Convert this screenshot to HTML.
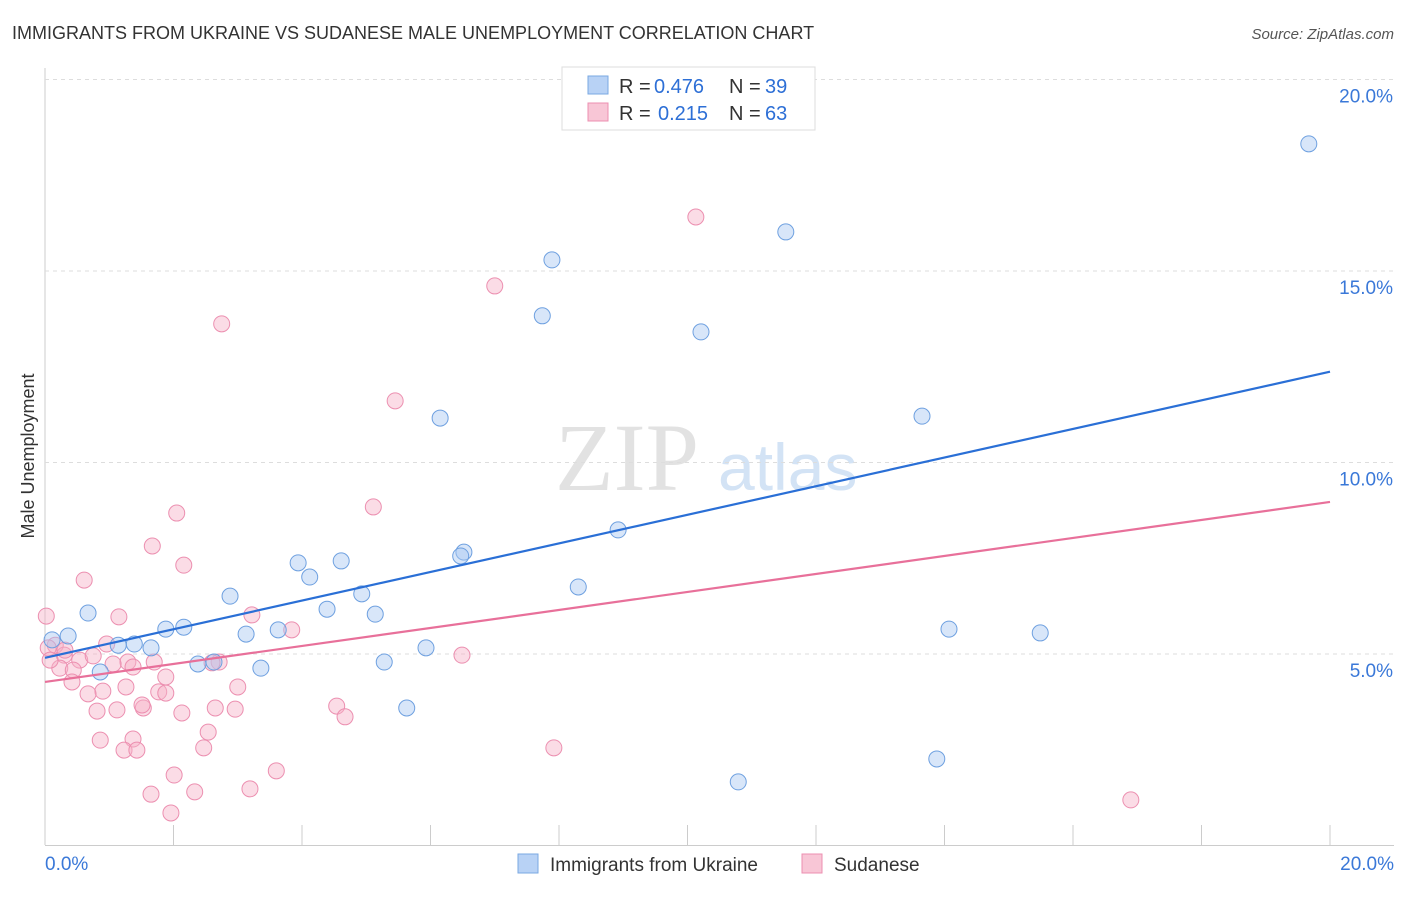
<!DOCTYPE html>
<html><head><meta charset="utf-8"><style>
body{margin:0;background:#fff;font-family:"Liberation Sans",sans-serif;}
#wrap{position:relative;width:1406px;height:892px;}
</style></head><body>
<div id="wrap">
<svg id="svg" width="1406" height="892" xmlns="http://www.w3.org/2000/svg">
<text x="12" y="39" font-size="18" fill="#333">IMMIGRANTS FROM UKRAINE VS SUDANESE MALE UNEMPLOYMENT CORRELATION CHART</text>
<text x="1394" y="39" font-size="15" fill="#555" text-anchor="end" font-style="italic">Source: ZipAtlas.com</text>
<text x="34" y="456" font-size="18" fill="#333" text-anchor="middle" transform="rotate(-90 34 456)">Male Unemployment</text>
<text x="555" y="490" font-size="96" fill="#e2e2e2" font-family="Liberation Serif,serif">ZIP</text>
<text x="718" y="490" font-size="66" fill="#d3e3f5">atlas</text>
<g id="grid"></g><g id="pts"></g><g id="lines"></g>
<g>
<rect x="562" y="67" width="253" height="63" fill="#fff" stroke="#ddd"/>
<rect x="588" y="76" width="20" height="18" fill="#b8d2f5" stroke="#7aa8e2"/>
<text x="619" y="93" font-size="20" fill="#333">R =</text>
<text x="654" y="93" font-size="20" fill="#2d6fd6">0.476</text>
<text x="729" y="93" font-size="20" fill="#333">N =</text>
<text x="765" y="93" font-size="20" fill="#2d6fd6">39</text>
<rect x="588" y="103" width="20" height="18" fill="#f8c6d6" stroke="#ec8fb0"/>
<text x="619" y="120" font-size="20" fill="#333">R =</text>
<text x="658" y="120" font-size="20" fill="#2d6fd6">0.215</text>
<text x="729" y="120" font-size="20" fill="#333">N =</text>
<text x="765" y="120" font-size="20" fill="#2d6fd6">63</text>
</g>
<g>
<rect x="518" y="854" width="20" height="19" fill="#b8d2f5" stroke="#7aa8e2"/>
<text x="550" y="871" font-size="19" fill="#333">Immigrants from Ukraine</text>
<rect x="802" y="854" width="20" height="19" fill="#f8c6d6" stroke="#ec8fb0"/>
<text x="834" y="871" font-size="19" fill="#333">Sudanese</text>
</g>
</svg>
<script>
const yTicks=[5,10,15,20];
const blueX=[],blueY=[],pinkX=[],pinkY=[];
const bluePx=[[1309,144],[786,232],[552,260],[542,316],[701,332],[440,418],[922,416],[618,530],[464,552],[461,556],[298,563],[341,561],[310,577],[578,587],[230,596],[362,594],[327,609],[375,614],[88,613],[184,627],[166,629],[278,630],[246,634],[949,629],[1040,633],[68,636],[52,640],[118,645],[134,644],[151,648],[426,648],[214,662],[198,664],[384,662],[261,668],[100,672],[407,708],[738,782],[937,759]];
const pinkPx=[[696,217],[495,286],[222,324],[395,401],[373,507],[177,513],[152,546],[184,565],[84,580],[46,616],[119,617],[252,615],[292,630],[107,644],[55,645],[48,648],[64,655],[80,660],[93,656],[128,662],[113,664],[133,667],[154,662],[219,662],[212,663],[462,655],[60,668],[73,670],[166,677],[72,682],[103,691],[126,687],[88,694],[159,692],[166,693],[238,687],[97,711],[117,710],[143,708],[142,705],[182,713],[215,708],[235,709],[337,706],[345,717],[100,740],[133,739],[208,732],[124,750],[137,750],[204,748],[554,748],[276,771],[174,775],[151,794],[195,792],[250,789],[171,813],[1131,800],[50,660],[65,650]];
bluePx.forEach(p=>{blueX.push(+((p[0]-45)/1285*20).toFixed(2));blueY.push(+((845.5-p[1])/191.5*5).toFixed(2));});
pinkPx.forEach(p=>{pinkX.push(+((p[0]-45)/1285*20).toFixed(2));pinkY.push(+((845.5-p[1])/191.5*5).toFixed(2));});
const blueTrend=[4.9,12.37];
const pinkTrend=[4.27,8.97];
const sx=v=>45+v/20*1285, sy=v=>845.5-v/5*191.5;
const NS="http://www.w3.org/2000/svg";
function mk(t,a,parent){const e=document.createElementNS(NS,t);for(const k in a)e.setAttribute(k,a[k]);document.getElementById(parent).appendChild(e);return e;}
mk('line',{x1:45,y1:68,x2:45,y2:845,stroke:'#ccc'},'grid');
mk('line',{x1:45,y1:845.5,x2:1394,y2:845.5,stroke:'#ccc'},'grid');
for(let i=1;i<=10;i++){mk('line',{x1:sx(i*2),y1:825,x2:sx(i*2),y2:845,stroke:'#ccc'},'grid');}
yTicks.forEach(t=>{
 const l=mk('line',{x1:45,y1:sy(t),x2:1394,y2:sy(t),stroke:'#ddd','stroke-dasharray':'4 4'},'grid');
 
 
 const tx=mk('text',{x:1393,y:sy(t)+23,'font-size':19,fill:'#3a78d8','text-anchor':'end'},'grid');tx.textContent=t.toFixed(1)+'%';
 
 
});
let t0=mk('text',{x:45,y:870,'font-size':19,fill:'#3a78d8'},'grid');t0.textContent='0.0%';


let t1=mk('text',{x:1394,y:870,'font-size':19,fill:'#3a78d8','text-anchor':'end'},'grid');t1.textContent='20.0%';


for(let i=0;i<pinkX.length;i++){const c=mk('circle',{cx:sx(pinkX[i]),cy:sy(pinkY[i]),r:8,fill:'rgba(246,178,200,0.45)',stroke:'#ec8fb0','stroke-width':1},'pts');
 
 }
for(let i=0;i<blueX.length;i++){const c=mk('circle',{cx:sx(blueX[i]),cy:sy(blueY[i]),r:8,fill:'rgba(168,200,242,0.45)',stroke:'#6ea0e0','stroke-width':1},'pts');
 
 }
const bl=mk('line',{x1:sx(0),y1:sy(blueTrend[0]),x2:sx(20),y2:sy(blueTrend[1]),stroke:'#2a6fd6','stroke-width':2.2},'lines');


const pl=mk('line',{x1:sx(0),y1:sy(pinkTrend[0]),x2:sx(20),y2:sy(pinkTrend[1]),stroke:'#e8709a','stroke-width':2.2},'lines');


</script>
</div></body></html>
